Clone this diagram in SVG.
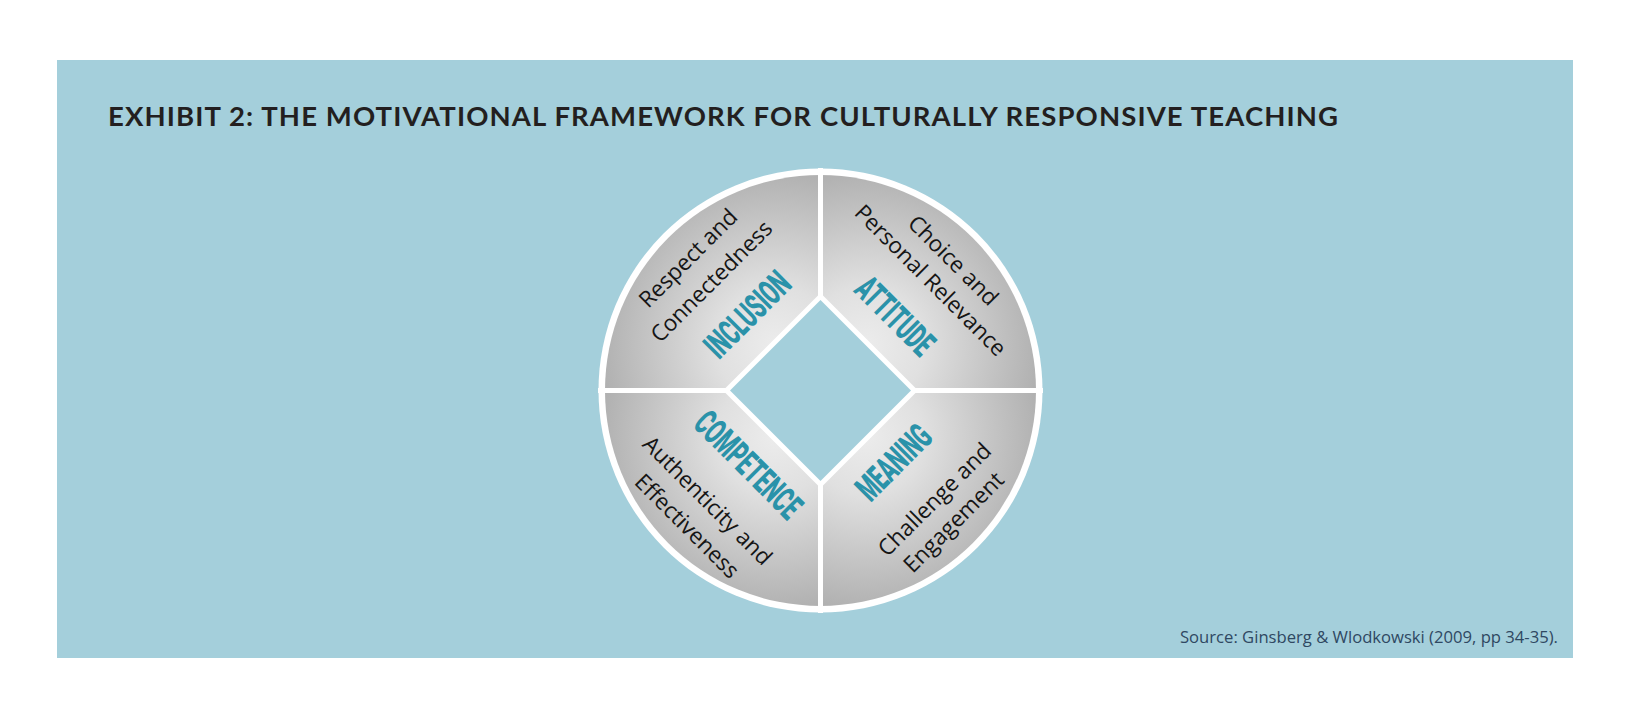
<svg xmlns="http://www.w3.org/2000/svg" width="1625" height="707" viewBox="0 0 1625 707">
<style>
.body{font-family:"Open Sans","DejaVu Sans",sans-serif;font-size:22.5px;fill:#151515;text-anchor:middle}
.lab{font-family:Roboto,"Liberation Sans",sans-serif;font-weight:900;font-size:36px;fill:#2a92a9;text-anchor:middle}
.gap{stroke:#ffffff;stroke-width:5;fill:none}
</style>
<defs>
<radialGradient id="gUL" gradientUnits="userSpaceOnUse" cx="775" cy="345" r="195"><stop offset="0" stop-color="#ececec"/><stop offset="0.3" stop-color="#e0e0e0"/><stop offset="1" stop-color="#a8a8a8"/></radialGradient>
<radialGradient id="gUR" gradientUnits="userSpaceOnUse" cx="866" cy="345" r="195"><stop offset="0" stop-color="#ececec"/><stop offset="0.3" stop-color="#e0e0e0"/><stop offset="1" stop-color="#a8a8a8"/></radialGradient>
<radialGradient id="gLR" gradientUnits="userSpaceOnUse" cx="866" cy="436" r="195"><stop offset="0" stop-color="#ececec"/><stop offset="0.3" stop-color="#e0e0e0"/><stop offset="1" stop-color="#a8a8a8"/></radialGradient>
<radialGradient id="gLL" gradientUnits="userSpaceOnUse" cx="775" cy="436" r="195"><stop offset="0" stop-color="#ececec"/><stop offset="0.3" stop-color="#e0e0e0"/><stop offset="1" stop-color="#a8a8a8"/></radialGradient>
</defs>
<rect x="0" y="0" width="1625" height="707" fill="#ffffff"/>
<rect id="panel" x="57" y="60" width="1516" height="598" fill="#a4cfdb"/>
<text id="title" x="108" y="125.5" textLength="1230" lengthAdjust="spacing" style="font-family:Lato,'Open Sans',sans-serif;font-weight:700;font-size:27.5px;fill:#231f20">EXHIBIT 2: THE MOTIVATIONAL FRAMEWORK FOR CULTURALLY RESPONSIVE TEACHING</text>
<g id="wheel">
<circle cx="820.5" cy="390.5" r="222" fill="#ffffff"/>
<path d="M820.5,390.5 L605,390.5 A215.5,215.5 0 0 1 820.5,175 Z" fill="url(#gUL)"/>
<path d="M820.5,390.5 L820.5,175 A215.5,215.5 0 0 1 1036,390.5 Z" fill="url(#gUR)"/>
<path d="M820.5,390.5 L1036,390.5 A215.5,215.5 0 0 1 820.5,606 Z" fill="url(#gLR)"/>
<path d="M820.5,390.5 L820.5,606 A215.5,215.5 0 0 1 605,390.5 Z" fill="url(#gLL)"/>
</g>
<g id="connectors">
<line class="gap" x1="820.5" y1="168" x2="820.5" y2="613"/>
<line class="gap" x1="598" y1="390.5" x2="1043" y2="390.5"/>
</g>
<g id="center">
<polygon points="820.5,293 918,390.5 820.5,488 723,390.5" fill="#ffffff"/>
<polygon points="820.5,300 911,390.5 820.5,481 730,390.5" fill="#a4cfdb"/>
</g>
<g id="inclusion" transform="rotate(-45 820.5 390.5)">
<text class="body" x="820.5" y="211">Respect and</text>
<text class="body" x="820.5" y="244">Connectedness</text>
<text class="lab" x="822.5" y="297.5" textLength="105" lengthAdjust="spacingAndGlyphs">INCLUSION</text>
</g>
<g id="attitude" transform="rotate(45 820.5 390.5)">
<text class="body" x="822.5" y="212.5">Choice and</text>
<text class="body" x="820.5" y="242.5">Personal Relevance</text>
<text class="lab" x="820.5" y="297.5" textLength="95" lengthAdjust="spacingAndGlyphs">ATTITUDE</text>
</g>
<g id="competence" transform="rotate(45 820.5 390.5)">
<text class="lab" x="822" y="506.5" textLength="135" lengthAdjust="spacingAndGlyphs">COMPETENCE</text>
<text class="body" x="818.5" y="556">Authenticity and</text>
<text class="body" x="822" y="588.5">Effectiveness</text>
</g>
<g id="meaning" transform="rotate(-45 820.5 390.5)">
<text class="lab" x="821.5" y="505.5" textLength="90" lengthAdjust="spacingAndGlyphs">MEANING</text>
<text class="body" x="824" y="556">Challenge and</text>
<text class="body" x="821.5" y="585.5">Engagement</text>
</g>
<text id="source" x="1180" y="643" textLength="378" lengthAdjust="spacingAndGlyphs" style="font-family:'Open Sans',sans-serif;font-size:16px;fill:#2f4862">Source: Ginsberg &amp; Wlodkowski (2009, pp 34-35).</text>
</svg>
